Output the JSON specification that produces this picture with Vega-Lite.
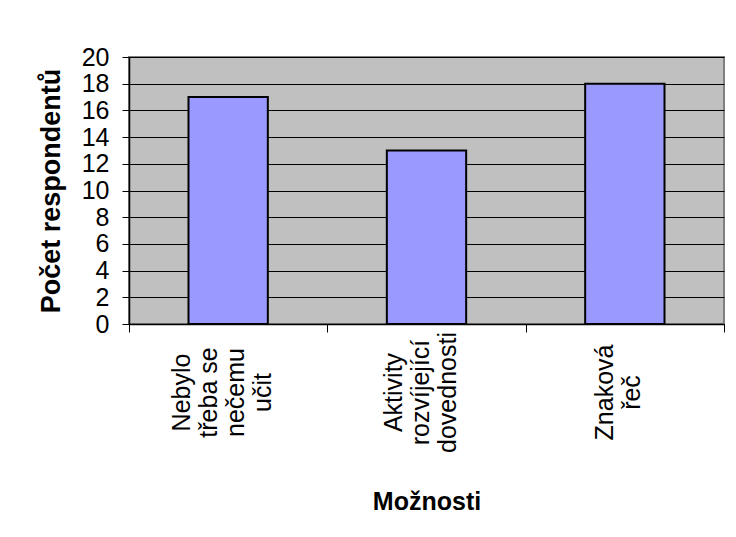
{
  "$schema": "https://vega.github.io/schema/vega-lite/v6.json",
  "width": 595,
  "height": 267,
  "autosize": "none",
  "padding": {"left": 129, "top": 57, "right": 12, "bottom": 213},
  "background": "white",
  "data": {
    "values": [
      {"moznost": "Nebylo|třeba se|nečemu|učit", "pocet": 17},
      {"moznost": "Aktivity|rozvíjející|dovednosti", "pocet": 13},
      {"moznost": "Znaková|řeč", "pocet": 18}
    ]
  },
  "mark": {"type": "bar", "fill": "#9999FF", "stroke": "black", "strokeWidth": 2, "width": {"band": 0.4}},
  "encoding": {
    "x": {
      "field": "moznost",
      "type": "nominal",
      "sort": null,
      "scale": {"paddingInner": 0, "paddingOuter": 0},
      "axis": {
        "title": "Možnosti",
        "titleFont": "Liberation Sans",
        "titleFontSize": 25,
        "titleFontWeight": "bold",
        "titleColor": "black",
        "titlePadding": 37,
        "labelExpr": "split(datum.label, '|')",
        "labelAngle": 270,
        "labelAlign": "center",
        "labelBaseline": {
          "condition": [
            {"test": "length(split(datum.value, '|')) == 4", "value": "line-bottom"},
            {"test": "length(split(datum.value, '|')) == 2", "value": "line-top"}
          ],
          "value": "middle"
        },
        "labelPadding": 60,
        "labelLineHeight": 27,
        "labelOffset": -33,
        "labelFont": "Liberation Sans",
        "labelFontSize": 25,
        "labelColor": "black",
        "tickBand": "extent",
        "tickSize": 8,
        "tickColor": "black",
        "domainColor": "black",
        "domainWidth": 1.5,
        "grid": false
      }
    },
    "y": {
      "field": "pocet",
      "type": "quantitative",
      "scale": {"domain": [0, 20], "nice": false},
      "axis": {
        "title": "Počet respondentů",
        "titleFont": "Liberation Sans",
        "titleFontSize": 27,
        "titleFontWeight": "bold",
        "titleColor": "black",
        "titlePadding": 16,
        "values": [0, 2, 4, 6, 8, 10, 12, 14, 16, 18, 20],
        "labelFont": "Liberation Sans",
        "labelFontSize": 25,
        "labelColor": "black",
        "labelPadding": 13,
        "tickSize": 7,
        "tickColor": "black",
        "domainColor": "black",
        "domainWidth": 1.5,
        "grid": true,
        "gridColor": "black",
        "gridWidth": 1
      }
    }
  },
  "config": {
    "view": {"fill": "#C0C0C0", "stroke": "#808080", "strokeWidth": 2}
  }
}
